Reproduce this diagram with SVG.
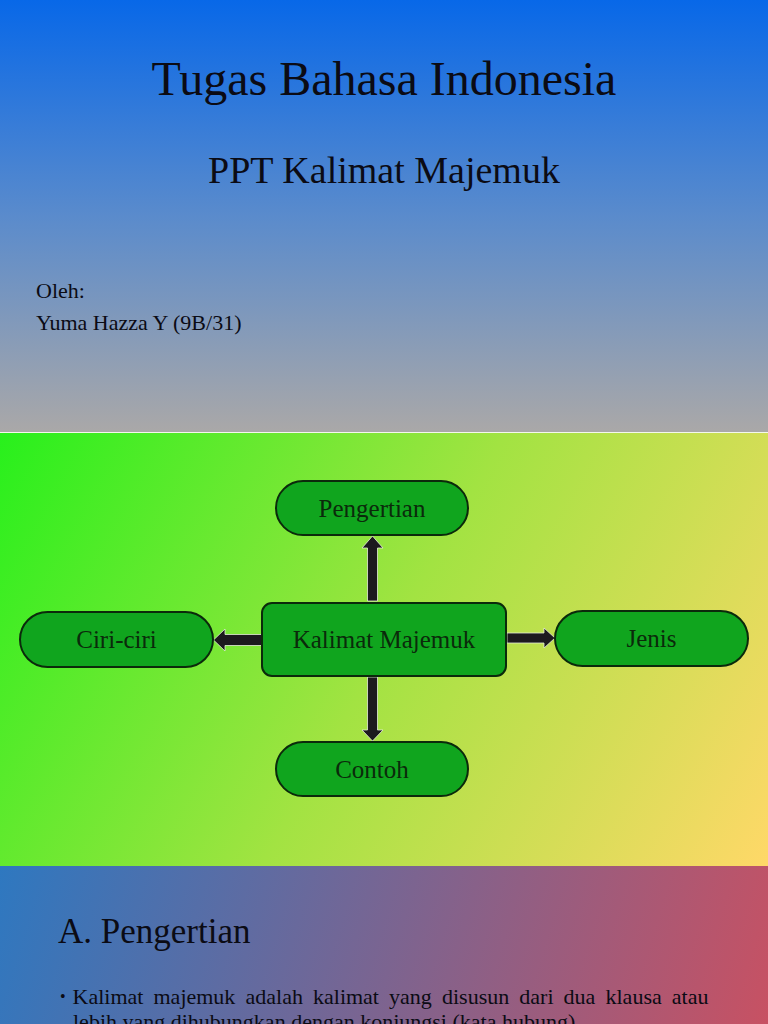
<svg xmlns="http://www.w3.org/2000/svg" width="768" height="1024" viewBox="0 0 768 1024">
  <defs>
    <linearGradient id="g1" x1="0" y1="0" x2="0" y2="1">
      <stop offset="0" stop-color="#0868e8"/>
      <stop offset="0.5" stop-color="#5a8bcc"/>
      <stop offset="1" stop-color="#aaa8a8"/>
    </linearGradient>
    <linearGradient id="g2" x1="0" y1="0" x2="768" y2="433" gradientUnits="userSpaceOnUse" gradientTransform="translate(0,433)">
      <stop offset="0" stop-color="#28f01c"/>
      <stop offset="0.5" stop-color="#a2e342"/>
      <stop offset="1" stop-color="#ffd868"/>
    </linearGradient>
    <linearGradient id="g3" x1="0" y1="866" x2="768" y2="1100" gradientUnits="userSpaceOnUse">
      <stop offset="0" stop-color="#2e78c0"/>
      <stop offset="0.5" stop-color="#7c6490"/>
      <stop offset="1" stop-color="#cc5060"/>
    </linearGradient>
    <style>
      .serif { font-family: "Liberation Serif", "Times New Roman", serif; fill: #0b0b14; }
      .node rect { fill: #10a51e; stroke: #0b2a0b; stroke-width: 2; }
      .node text { font-family: "Liberation Serif", "Times New Roman", serif; font-size: 25px; fill: #0b2a0b; text-anchor: middle; }
      .arrow { fill: #1c1a1e; stroke: #e4ecd8; stroke-width: 0.8; }
    </style>
  </defs>

  <!-- Slide 1 -->
  <rect x="0" y="0" width="768" height="432" fill="url(#g1)"/>
  <text class="serif" x="384" y="95" font-size="48" text-anchor="middle">Tugas Bahasa Indonesia</text>
  <text class="serif" x="384" y="183" font-size="38" text-anchor="middle">PPT Kalimat Majemuk</text>
  <text class="serif" x="36" y="298" font-size="22">Oleh:</text>
  <text class="serif" x="36" y="330" font-size="22">Yuma Hazza Y (9B/31)</text>

  <rect x="0" y="432" width="768" height="1.5" fill="#f4f8ec"/>

  <!-- Slide 2 -->
  <rect x="0" y="433" width="768" height="433" fill="url(#g2)"/>

  <g id="connectors">
    <polygon class="arrow" points="367.5,601 367.5,548 362,548 372.5,536 383,548 377.5,548 377.5,601"/>
    <polygon class="arrow" points="262,634.5 225,634.5 225,629 213.5,640 225,651 225,645.5 262,645.5"/>
    <polygon class="arrow" points="507,633 544,633 544,628 555,638 544,648 544,643 507,643"/>
    <polygon class="arrow" points="367.5,677 367.5,730 362,730 372.5,741 383,730 377.5,730 377.5,677"/>
  </g>

  <g id="node-pengertian" class="node">
    <rect x="276" y="481" width="192" height="54" rx="27"/>
    <text x="372" y="517">Pengertian</text>
  </g>
  <g id="node-kalimat" class="node">
    <rect x="262" y="603" width="244" height="73" rx="10"/>
    <text x="384" y="648">Kalimat Majemuk</text>
  </g>
  <g id="node-ciri" class="node">
    <rect x="20" y="612" width="193" height="55" rx="27.5"/>
    <text x="116.5" y="648">Ciri-ciri</text>
  </g>
  <g id="node-jenis" class="node">
    <rect x="555" y="611" width="193" height="55" rx="27.5"/>
    <text x="651.5" y="647">Jenis</text>
  </g>
  <g id="node-contoh" class="node">
    <rect x="276" y="742" width="192" height="54" rx="27"/>
    <text x="372" y="778">Contoh</text>
  </g>

  <!-- Slide 3 -->
  <rect x="0" y="866" width="768" height="158" fill="url(#g3)"/>
  <text class="serif" x="58" y="943" font-size="35" fill="#0a0a10">A. Pengertian</text>
  <text class="serif" x="60" y="1002" font-size="16">•</text>
  <text class="serif" y="1004" font-size="22"><tspan x="72.5">Kalimat</tspan><tspan x="153.5">majemuk</tspan><tspan x="245.5">adalah</tspan><tspan x="313">kalimat</tspan><tspan x="389">yang</tspan><tspan x="442">disusun</tspan><tspan x="519.3">dari</tspan><tspan x="563.6">dua</tspan><tspan x="605.5">klausa</tspan><tspan x="671.8">atau</tspan></text>
  <text class="serif" x="73" y="1029" font-size="22">lebih yang dihubungkan dengan konjungsi (kata hubung).</text>
</svg>
